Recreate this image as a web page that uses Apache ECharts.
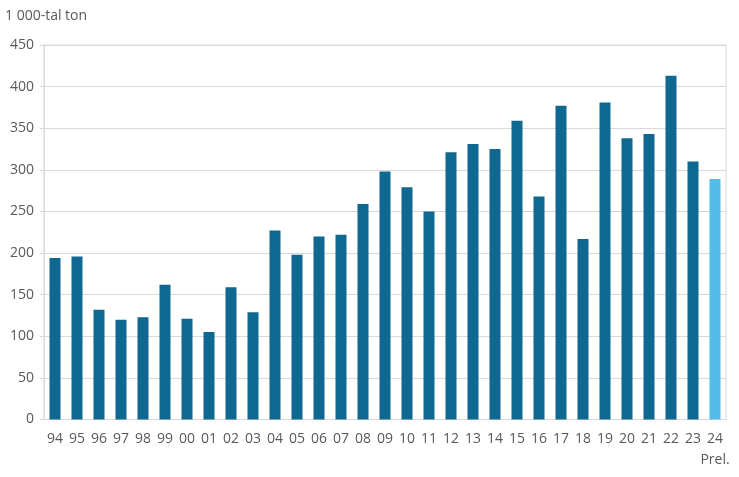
<!DOCTYPE html>
<html>
<head>
<meta charset="utf-8">
<script src="https://cdn.jsdelivr.net/npm/echarts@6/dist/echarts.min.js"></script>
<style>
html,body{margin:0;padding:0;background:#fff;}
#chart{width:739px;height:477px;}
</style>
</head>
<body>
<div id="chart"></div>
<script>
const categories = ['94','95','96','97','98','99','00','01','02','03','04','05','06','07','08','09','10','11','12','13','14','15','16','17','18','19','20','21','22','23','24\nPrel.'];
const values = [194,196,132,120,123,162,121,105,159,129,227,198,220,222,259,298,279,250,321,331,325,359,268,377,217,381,338,343,413,310,289];
const prelimIndex = 30;
const yTicks = [0,50,100,150,200,250,300,350,400,450];
const yUnit = '1 000-tal ton';

const darkBlue = '#0f6890';
const lightBlue = '#52bdec';
const textColor = '#595959';
const gridColor = '#d9d9d9';

const chart = echarts.init(document.getElementById('chart'), null, {renderer:'canvas'});
chart.setOption({
  animation:false,
  textStyle:{fontFamily:'Open Sans'},
  graphic:[{type:'text', left:5, top:9, style:{text:yUnit, fontFamily:'Open Sans', fontSize:14, fill:textColor}}],
  grid:{left:44, right:13, top:45, bottom:57.5, show:true, borderColor:gridColor, borderWidth:1},
  xAxis:{
    type:'category', data:categories,
    axisLine:{lineStyle:{color:gridColor}},
    axisTick:{show:false},
    axisLabel:{color:textColor, fontSize:14, fontFamily:'Open Sans', margin:9, lineHeight:21, interval:0}
  },
  yAxis:{
    type:'value', min:yTicks[0], max:yTicks[yTicks.length-1], interval:50,
    axisLine:{show:true, lineStyle:{color:gridColor}},
    axisTick:{show:true, length:4, lineStyle:{color:gridColor}},
    splitLine:{lineStyle:{color:gridColor}},
    axisLabel:{color:textColor, fontSize:14, fontFamily:'Open Sans', margin:10}
  },
  series:[{
    type:'bar', barWidth:'50%',
    data: values.map((v,i)=>({value:v, itemStyle:{color: i===prelimIndex ? lightBlue : darkBlue}}))
  }]
});
</script>
</body>
</html>
